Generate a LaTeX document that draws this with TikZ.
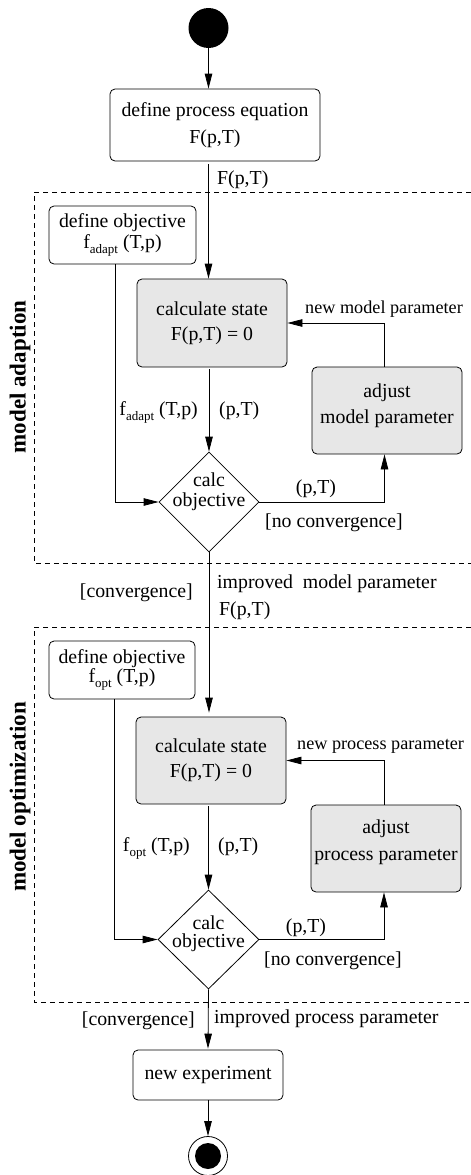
\documentclass[tikz,border=0pt]{standalone}
\usepackage{fontspec}
\setmainfont{Liberation Serif}
\usetikzlibrary{arrows.meta,shapes.geometric,calc}
\definecolor{actgray}{RGB}{231,231,231}
% lowered subscript used in the objective names
\newcommand\lowsub[1]{\raisebox{-5pt}{\fontsize{13}{13}\selectfont #1}}
\begin{document}
\begin{tikzpicture}[x=1pt,y=-1pt,
  every node/.style={font=\fontsize{19.8}{23}\selectfont},
  box/.style={draw, line width=0.8pt, rounded corners=5pt, inner sep=0pt, align=center},
  active/.style={box, fill=actgray},
  decision/.style={diamond, draw, line width=0.8pt, inner sep=0pt, minimum width=100pt, minimum height=100pt},
  flow/.style={-{Triangle[length=15pt,width=7.5pt]}, line width=0.8pt},
  region/.style={dash pattern=on 5pt off 4pt, line width=0.7pt},
  tag/.style={anchor=base west, inner sep=0pt},
  tage/.style={anchor=base east, inner sep=0pt},
  tagc/.style={anchor=base, inner sep=0pt},
  small/.style={font=\fontsize{18.2}{20}\selectfont},
  section/.style={rotate=90, font=\bfseries\fontsize{23}{26}\selectfont}]
\useasboundingbox (0,0) rectangle (471,1175);

% swimlane-like regions
\draw[region] (471,192) -- (34,192) -- (34,563) -- (471,563);
\draw[region] (471,627) -- (34,627) -- (34,1002) -- (471,1002);
\node[section] (secA) at (20,377) {model adaption};
\node[section] (secB) at (20,797) {model optimization};

% initial state and process definition
\node[circle, fill, minimum size=40pt, inner sep=0pt] (start) at (208.5,28) {};
\node[box, minimum width=210pt, minimum height=72pt, font=\fontsize{19.8}{27}\selectfont] (proc) at (215,125) {define process equation\\F(p,T)};

% model adaption loop
\node[box, minimum width=147pt, minimum height=58pt, font=\fontsize{19.8}{21}\selectfont] (defA) at (122.5,235) {define objective\\f\lowsub{adapt} (T,p)};
\node[active, minimum width=150pt, minimum height=88pt, font=\fontsize{19.8}{25}\selectfont] (calcA) at (212,323) {calculate state\\F(p,T) = 0};
\node[active, minimum width=150pt, minimum height=87pt,
  label={[align=center, yshift=5pt, font=\fontsize{19.8}{26}\selectfont]center:adjust\\model parameter}] (adjA) at (387,410.5) {};
\node[decision, label={[align=center, yshift=10pt, font=\fontsize{19.8}{20}\selectfont]center:calc\\objective}] (dA) at (209,502) {};

% model optimization loop
\node[box, minimum width=146pt, minimum height=58pt, font=\fontsize{19.8}{19}\selectfont] (defB) at (122,670) {define objective\\f\lowsub{opt} (T,p)};
\node[active, minimum width=150pt, minimum height=87pt, font=\fontsize{19.8}{25}\selectfont] (calcB) at (211,760.5) {calculate state\\F(p,T) = 0};
\node[active, minimum width=150pt, minimum height=87pt,
  label={[align=center, yshift=6pt, font=\fontsize{19.8}{27}\selectfont]center:adjust\\process parameter}] (adjB) at (386,848.5) {};
\node[decision, minimum width=101pt, minimum height=99pt, label={[align=center, yshift=6pt, font=\fontsize{19.8}{18}\selectfont]center:calc\\objective}] (dB) at (208.5,939.5) {};

% final activity and end state
\node[box, minimum width=150pt, minimum height=50pt] (newexp) at (208,1075) {new experiment};
\node[circle, draw, line width=0.8pt, fill=white, minimum size=39pt, inner sep=0pt] (stop) at (208,1156) {};
\node[circle, fill, minimum size=26pt, inner sep=0pt] (stopdot) at (stop.center) {};

% connectors
\draw[flow] (start.south) -- (start.south |- proc.north);
\draw[flow, shorten <=3pt] (start.south |- proc.south) -- (start.south |- calcA.north);
\draw[flow, shorten <=2pt] (dA.north |- calcA.south) -- (dA.north);
\draw[flow] ([xshift=-7.5pt]defA.south) |- (dA.west);
\draw[flow] (dA.east) -| ([xshift=-2.5pt]adjA.south);
\draw[flow] ([xshift=-2.5pt]adjA.north) |- (calcA.east);
\draw[flow, shorten >=4pt] (dA.south) -- (dA.south |- calcB.north);

\draw[flow, shorten <=2pt] (dB.north |- calcB.south) -- (dB.north);
\draw[flow] ([xshift=-8pt]defB.south) |- (dB.west);
\draw[flow] (dB.east) -| ([xshift=-2pt]adjB.south);
\draw[flow] ([xshift=-2pt]adjB.north) |- (calcB.east);
\draw[flow, shorten >=1pt] (dB.south) -- (newexp.north);
\draw[flow] (newexp.south) -- (stop.north);

% connector labels
\node[tag] (lbF1) at (217,184) {F(p,T)};
\node[tag, small] (lbNewM) at (305,313) {new model parameter};
\node[tage] (lbfA) at (198,415) {f\lowsub{adapt} (T,p)};
\node[tag] (lbpT1) at (219,415) {(p,T)};
\node[tagc] (lbpT2) at (316,493) {(p,T)};
\node[tag] (lbNoC1) at (265,527) {[no convergence]};
\node[tage] (lbConv1) at (193,597) {[convergence]};
\node[tag] (lbImpM) at (217,588) {improved\ \ model parameter};
\node[tag] (lbF2) at (219,615) {F(p,T)};
\node[tag, small] (lbNewP) at (297,749) {new process parameter};
\node[tage] (lbfO) at (190,851) {f\lowsub{opt} (T,p)};
\node[tag] (lbpT3) at (218,851) {(p,T)};
\node[tagc] (lbpT4) at (306,932) {(p,T)};
\node[tag] (lbNoC2) at (264,965) {[no convergence]};
\node[tage] (lbConv2) at (195,1025) {[convergence]};
\node[tag] (lbImpP) at (214,1023) {improved process parameter};
\end{tikzpicture}
\end{document}
